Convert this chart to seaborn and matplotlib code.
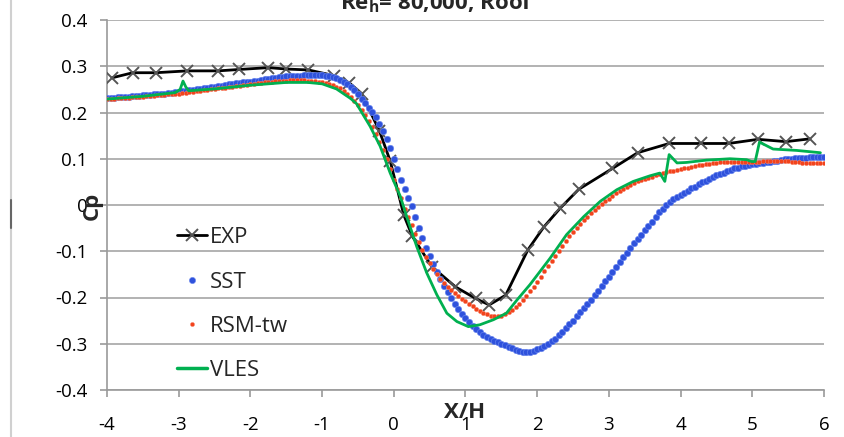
import numpy as np
import pandas as pd
import matplotlib
matplotlib.use("Agg")
import matplotlib.pyplot as plt
from matplotlib.lines import Line2D
import seaborn as sns

# ---------------- data ----------------
exp_x = [-3.93, -3.64, -3.32, -2.88, -2.45, -2.16, -1.75, -1.50, -1.19, -0.84, -0.62, -0.45,
         -0.20, -0.05, 0.14, 0.26, 0.53, 0.86, 1.14, 1.33, 1.56, 1.87, 2.09, 2.32, 2.58,
         3.05, 3.40, 3.84, 4.28, 4.67, 5.08, 5.47, 5.80]
exp_cp = [0.275, 0.286, 0.286, 0.290, 0.290, 0.293, 0.297, 0.294, 0.292, 0.280, 0.264, 0.241,
          0.160, 0.095, -0.022, -0.068, -0.133, -0.177, -0.202, -0.216, -0.195, -0.097, -0.048,
          -0.007, 0.034, 0.079, 0.113, 0.133, 0.133, 0.133, 0.142, 0.137, 0.143]

# CFD sample positions (x/H), every 0.05 from -4 to 6
cfd_x = np.round(np.arange(-4.0, 6.0001, 0.05), 2)

sst_cp = [
    .232, .232, .232, .233, .233, .234, .234, .235, .235, .236,
    .237, .237, .238, .239, .240, .241, .241, .242, .243, .244,
    .245, .246, .247, .248, .249, .250, .251, .252, .253, .255,
    .256, .257, .258, .259, .261, .262, .263, .264, .265, .266,
    .267, .268, .269, .270, .272, .273, .274, .275, .276, .277,
    .278, .279, .279, .280, .280, .281, .281, .281, .281, .281,
    .281, .280, .279, .277, .274, .270, .266, .261, .255, .248,
    .239, .230, .220, .210, .201, .190, .176, .160, .142, .123,
    .100, .077, .055, .035, .016, -.003, -.026, -.050, -.072, -.093,
    -.110, -.127, -.144, -.160, -.175, -.189, -.202, -.214, -.225, -.235,
    -.244, -.253, -.261, -.268, -.274, -.280, -.285, -.289, -.293, -.297,
    -.300, -.303, -.307, -.310, -.313, -.316, -.318, -.318, -.317, -.315,
    -.312, -.309, -.305, -.300, -.295, -.289, -.282, -.275, -.267, -.258,
    -.250, -.241, -.232, -.223, -.214, -.205, -.195, -.185, -.175, -.165,
    -.155, -.145, -.134, -.123, -.113, -.103, -.093, -.083, -.073, -.064,
    -.055, -.045, -.036, -.026, -.016, -.008, .000, .007, .013, .018,
    .022, .027, .031, .036, .040, .045, .049, .052, .056, .060,
    .064, .067, .070, .073, .076, .079, .081, .084, .085, .086,
    .088, .089, .090, .091, .093, .094, .095, .096, .098, .099,
    .100, .100, .101, .101, .102, .102, .103, .103, .103, .103, .103]

rsm_cp = [
    .230, .230, .230, .231, .231, .232, .232, .233, .233, .234,
    .234, .235, .235, .236, .237, .238, .238, .239, .240, .241,
    .241, .242, .243, .244, .245, .246, .247, .248, .249, .250,
    .251, .252, .253, .254, .255, .256, .257, .258, .259, .260,
    .261, .262, .263, .264, .265, .266, .267, .268, .268, .269,
    .269, .270, .270, .270, .270, .270, .269, .269, .268, .267,
    .266, .264, .262, .259, .256, .252, .246, .240, .233, .225,
    .216, .206, .194, .181, .168, .153, .137, .119, .099, .077,
    .055, .035, .015, -.008, -.027, -.044, -.063, -.081, -.097, -.112,
    -.126, -.138, -.149, -.159, -.169, -.177, -.184, -.191, -.197, -.203,
    -.208, -.214, -.219, -.224, -.229, -.233, -.236, -.239, -.240, -.241,
    -.240, -.236, -.231, -.226, -.220, -.213, -.205, -.196, -.187, -.177,
    -.166, -.155, -.143, -.132, -.121, -.110, -.099, -.088, -.077, -.068,
    -.059, -.050, -.041, -.032, -.025, -.018, -.011, -.004, .002, .008,
    .014, .020, .025, .030, .035, .040, .044, .048, .052, .055,
    .057, .059, .061, .064, .068, .070, .071, .073, .074, .075,
    .077, .079, .081, .083, .085, .086, .087, .088, .089, .090,
    .091, .092, .092, .092, .092, .092, .092, .093, .093, .093,
    .094, .094, .094, .095, .095, .095, .096, .096, .096, .096,
    .095, .093, .092, .092, .091, .091, .091, .091, .091, .091, .091]

vles_x = [-4.00, -3.50, -3.05, -2.98, -2.94, -2.90, -2.86, -2.50, -2.00, -1.50, -1.20, -1.00,
          -0.80, -0.60, -0.52, -0.33, -0.19, -0.05, 0.09, 0.18, 0.32, 0.46, 0.60, 0.74, 0.88,
          1.04, 1.20, 1.39, 1.57, 1.72, 1.90, 2.18, 2.41, 2.65, 2.88, 3.11, 3.34, 3.57, 3.71,
          3.78, 3.84, 3.95, 4.08, 4.36, 4.69, 4.92, 4.99, 5.04, 5.10, 5.29, 5.62, 5.95]
vles_cp = [0.229, 0.235, 0.243, 0.250, 0.268, 0.255, 0.247, 0.251, 0.259, 0.265, 0.265, 0.262,
           0.251, 0.230, 0.219, 0.170, 0.127, 0.069, 0.019, -0.025, -0.090, -0.147, -0.194,
           -0.234, -0.252, -0.263, -0.259, -0.248, -0.234, -0.205, -0.172, -0.115, -0.064,
           -0.025, 0.008, 0.033, 0.051, 0.063, 0.069, 0.051, 0.109, 0.091, 0.092, 0.097,
           0.100, 0.098, 0.094, 0.094, 0.136, 0.121, 0.118, 0.113]

x_ticks = [-4, -3, -2, -1, 0, 1, 2, 3, 4, 5, 6]
x_ticklabels = ["-4", "-3", "-2", "-1", "0", "1", "2", "3", "4", "5", "6"]
y_ticks = [-0.4, -0.3, -0.2, -0.1, 0.0, 0.1, 0.2, 0.3, 0.4]
y_ticklabels = ["-0.4", "-0.3", "-0.2", "-0.1", "0", "0.1", "0.2", "0.3", "0.4"]

series_names = ["EXP", "SST", "RSM-tw", "VLES"]

# ---------------- style ----------------
sns.set_theme(style="white")
plt.rcParams["font.family"] = ["Open Sans", "DejaVu Sans"]
plt.rcParams["axes.unicode_minus"] = False
plt.rcParams["mathtext.fontset"] = "custom"
plt.rcParams["mathtext.rm"] = "Open Sans"
plt.rcParams["mathtext.bf"] = "Open Sans:bold"
plt.rcParams["mathtext.it"] = "Open Sans:italic"

c_exp = "#000000"
c_sst = "#2F52DC"
c_rsm = "#F2431C"
c_vles = "#00B050"

fig = plt.figure(figsize=(8.45, 4.37), dpi=100)
ax = fig.add_axes([107 / 845, 47 / 437, 717 / 845, 370 / 437])

df_exp = pd.DataFrame({"x": exp_x, "cp": exp_cp})
df_sst = pd.DataFrame({"x": cfd_x, "cp": sst_cp})
df_rsm = pd.DataFrame({"x": cfd_x, "cp": rsm_cp})
df_vles = pd.DataFrame({"x": vles_x, "cp": vles_cp})

sns.lineplot(data=df_exp, x="x", y="cp", ax=ax, color=c_exp, lw=2.0, marker="x",
             markersize=8.5, markeredgewidth=1.4, markeredgecolor="#555555",
             sort=False, zorder=3, legend=False)
sns.scatterplot(data=df_sst, x="x", y="cp", ax=ax, color=c_sst, s=22, linewidth=0.4,
                edgecolor="#6F8BF0", zorder=4, legend=False)
sns.scatterplot(data=df_rsm, x="x", y="cp", ax=ax, color=c_rsm, s=10, linewidth=0.3,
                edgecolor="#F88A70", zorder=5, legend=False)
sns.lineplot(data=df_vles, x="x", y="cp", ax=ax, color=c_vles, lw=2.0, sort=False,
             zorder=6, legend=False)

ax.set_xlim(-4, 6)
ax.set_ylim(-0.4, 0.4)
ax.set_xticks(x_ticks)
ax.set_xticklabels(x_ticklabels)
ax.set_yticks(y_ticks)
ax.set_yticklabels(y_ticklabels)

ax.grid(axis="y", color="#A6A6A6", lw=1.2)
ax.grid(axis="x", visible=False)
for s in ["top", "right"]:
    ax.spines[s].set_visible(False)
for s in ["left", "bottom"]:
    ax.spines[s].set_color("#9A9A9A")
    ax.spines[s].set_linewidth(1.2)

ax.tick_params(axis="both", which="major", direction="out", length=5, width=1.2,
               color="#9A9A9A", labelsize=13.5, labelcolor="#000000")
ax.tick_params(axis="x", pad=14, bottom=True)
ax.tick_params(axis="y", pad=9, left=True)

ax.set_xlabel("X/H", fontsize=16, fontweight="bold", va="center")
ax.xaxis.set_label_coords(0.499, -0.062)
ax.set_ylabel("Cp", fontsize=16, fontweight="bold", va="center")
ax.yaxis.set_label_coords(-0.021, 0.497)

fig.text(437 / 845, 1 - 9 / 437, r"Re$_\mathbf{h}$= 80,000, Roof", ha="center",
         va="baseline", fontsize=16, fontweight="bold")

# legend
handles = [
    Line2D([], [], color=c_exp, lw=2.0, marker="x", markersize=8.5, markeredgewidth=1.4,
           markeredgecolor="#555555"),
    Line2D([], [], color=c_sst, lw=0, marker="o", markersize=4.5, markeredgecolor="#6F8BF0",
           markeredgewidth=0.4),
    Line2D([], [], color=c_rsm, lw=0, marker="o", markersize=3, markeredgecolor="#F88A70",
           markeredgewidth=0.3),
    Line2D([], [], color=c_vles, lw=2.5),
]
leg = ax.legend(handles, series_names, loc="upper left", bbox_to_anchor=(0.097, 0.44),
                frameon=False, fontsize=16, handlelength=1.35, handletextpad=0.15,
                labelspacing=1.05, borderpad=0, borderaxespad=0)

# left frame border of the chart area
fig.add_artist(Line2D([11 / 845, 11 / 845], [0, 1], transform=fig.transFigure,
                      color="#D0D0D0", lw=1.5))
fig.add_artist(Line2D([11 / 845, 11 / 845], [1 - 228 / 437, 1 - 200 / 437],
                      transform=fig.transFigure, color="#666666", lw=1.5))

fig.savefig("out.png", dpi=100)
